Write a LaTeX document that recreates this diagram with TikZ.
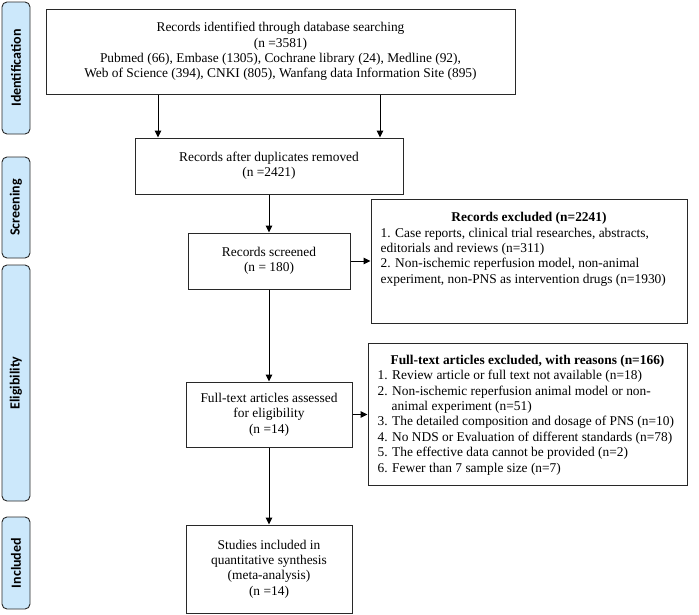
\documentclass[tikz,border=0pt]{standalone}
\usepackage{fontspec}
\setmainfont{Liberation Serif}
\newfontfamily\labelfont{Carlito}
\usetikzlibrary{arrows.meta}
\definecolor{sidefill}{RGB}{204,232,251}
\definecolor{boxline}{RGB}{40,40,40}
\newcommand{\mainsize}{\fontsize{13.4}{15.4}\selectfont}
\begin{document}
\begin{tikzpicture}[x=1pt,y=-1pt,
  box/.style={draw=boxline, line width=1pt, inner sep=0pt, align=center, font=\mainsize},
  side/.style={draw=boxline, line width=0.9pt, fill=sidefill, rounded corners=5pt,
    minimum height=28pt, inner sep=0pt, rotate=90,
    font=\labelfont\bfseries\fontsize{14}{16}\selectfont},
  arr/.style={line width=1pt, draw=black, -{Triangle[length=7pt,width=6.5pt]}},
  txt/.style={inner sep=0pt, font=\mainsize, align=left},
  head/.style={inner sep=0pt, font=\mainsize\bfseries, align=center, anchor=north}]
\useasboundingbox (0,0) rectangle (699,614);
% phase labels
\node[side, minimum width=132pt] (sid) at (16,68) {Identification};
\node[side, minimum width=101pt] (sscr) at (16,207.5) {Screening};
\node[side, minimum width=236pt] (selig) at (16,383) {Eligibility};
\node[side, minimum width=92pt] (sinc) at (16,563) {Included};
% main boxes
\node[box, minimum width=469pt, minimum height=85pt] (top) at (280.5,51.5)
  {Records identified through database searching\\(n =3581)\\Pubmed (66), Embase (1305), Cochrane library (24), Medline (92),\\Web of Science (394), CNKI (805), Wanfang data Information Site (895)};
\node[box, minimum width=268pt, minimum height=56pt] (dup) at (269,166)
  {Records after duplicates removed\\(n =2421)};
\node[box, minimum width=162pt, minimum height=56pt] (scr) at (269,261)
  {Records screened\\(n = 180)};
\node[box, minimum width=316pt, minimum height=124pt] (ex1) at (529,261) {};
\node[head] (ex1h) at ([yshift=-13pt]ex1.north) {Records excluded (n=2241)};
\node[txt, anchor=north west] (ex1t) at ([xshift=10pt,yshift=-29pt]ex1.north west)
  {1. Case reports, clinical trial researches, abstracts,\\
   editorials and reviews (n=311)\\
   2. Non-ischemic reperfusion model, non-animal\\
   experiment, non-PNS as intervention drugs (n=1930)};
\node[box, minimum width=166pt, minimum height=65pt] (ft) at (269,414.5)
  {Full-text articles assessed\\for eligibility\\(n =14)};
\node[box, minimum width=319pt, minimum height=142pt] (ex2) at (527.5,414.5) {};
\node[head] (ex2h) at ([yshift=-11.5pt]ex2.north) {Full-text articles excluded, with reasons (n=166)};
\node[txt, anchor=north west] (ex2t) at ([xshift=10pt,yshift=-27pt]ex2.north west)
  {1. Review article or full text not available (n=18)\\
   2. Non-ischemic reperfusion animal model or non-\\
   \hspace*{14pt}animal experiment (n=51)\\
   3. The detailed composition and dosage of PNS (n=10)\\
   4. No NDS or Evaluation of different standards (n=78)\\
   5. The effective data cannot be provided (n=2)\\
   6. Fewer than 7 sample size (n=7)};
\node[box, minimum width=166pt, minimum height=88pt] (stu) at (269,569)
  {Studies included in\\quantitative synthesis\\(meta-analysis)\\(n =14)};
% connectors
\coordinate (c1) at (158,0);
\coordinate (c2) at (380,0);
\draw[arr] (top.south -| c1) -- (dup.north -| c1);
\draw[arr] (top.south -| c2) -- (dup.north -| c2);
\draw[arr] (dup.south) -- (scr.north);
\draw[arr] (scr.east) -- (scr.east -| ex1.west);
\draw[arr] (scr.south) -- (ft.north);
\draw[arr] (ft.east) -- (ft.east -| ex2.west);
\draw[arr] (ft.south) -- (stu.north);
\end{tikzpicture}
\end{document}
